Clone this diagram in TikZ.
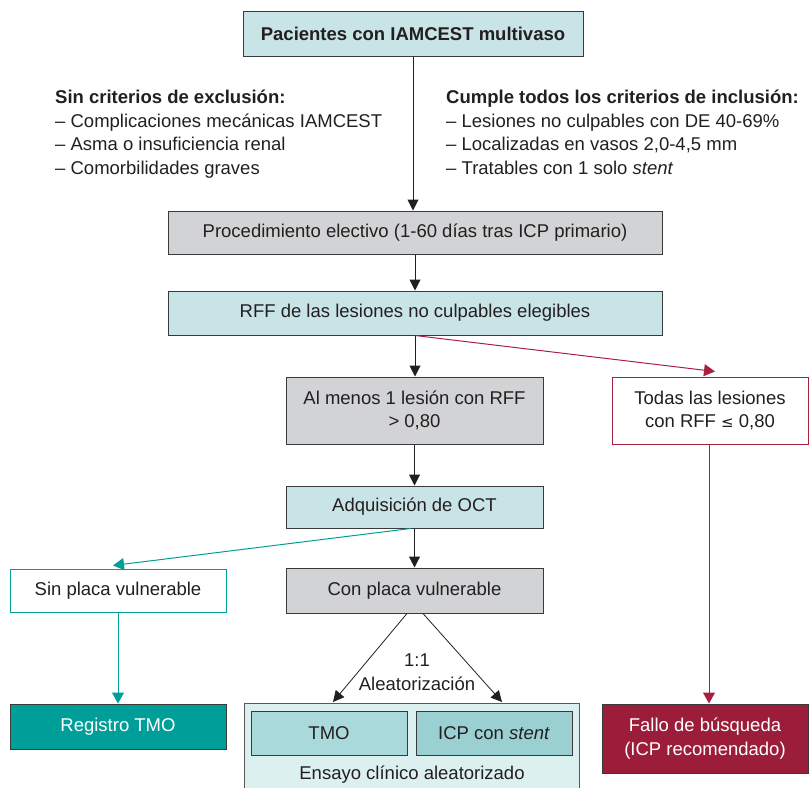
\documentclass[tikz,border=0pt]{standalone}
\usepackage{fontspec}
\setmainfont{Liberation Sans}
\usetikzlibrary{arrows.meta,calc}
\definecolor{lblue}{HTML}{C9E4E7}
\definecolor{lgray}{HTML}{D1D3D4}
\definecolor{bgray}{HTML}{3A3A3A}
\definecolor{teal}{HTML}{009E99}
\definecolor{dred}{HTML}{9B1D3A}
\definecolor{rline}{HTML}{A8203F}
\definecolor{trialbg}{HTML}{DDF0F0}
\definecolor{tmofill}{HTML}{AAD9DB}
\definecolor{icpfill}{HTML}{9BD0D2}
\definecolor{txt}{HTML}{231F20}
\tikzset{
  box/.style={draw=bgray, line width=1pt, inner sep=0pt, align=center, text=txt,
    font=\fontsize{18.5}{23.5}\selectfont},
  bluebox/.style={box, fill=lblue},
  graybox/.style={box, fill=lgray},
  arr/.style={line width=1pt, draw=txt, -{Triangle[length=11pt,width=11pt]}},
  tarr/.style={arr, draw=teal, -{Triangle[length=11pt,width=12pt,fill=teal]}},
  rarr/.style={arr, draw=rline, -{Triangle[length=11pt,width=12pt,fill=rline]}},
  plain/.style={inner sep=0pt, text=txt, font=\fontsize{18.5}{23.5}\selectfont, align=left},
}
\begin{document}
\begin{tikzpicture}[x=1pt,y=-1pt]
\useasboundingbox (0,0) rectangle (810,787);
\begin{scope}
\clip (0,0) rectangle (810,787);
% nodes
\node[bluebox, minimum width=340pt, minimum height=45pt] (top) at (413,33.5) {\textbf{Pacientes con IAMCEST multivaso}};
\node[plain, anchor=north west] (excl) at (55,90) {\textbf{Sin criterios de exclusión:}\\
– Complicaciones mecánicas IAMCEST\\
– Asma o insuficiencia renal\\
– Comorbilidades graves};
\node[plain, anchor=north west] (incl) at (446,90) {\textbf{Cumple todos los criterios de inclusión:}\\
– Lesiones no culpables con DE 40-69\%\\
– Localizadas en vasos 2,0-4,5 mm\\
– Tratables con 1 solo \textit{stent}};
\node[graybox, minimum width=494pt, minimum height=43pt] (proc) at (415,232.5) {Procedimiento electivo (1-60 días tras ICP primario)};
\node[bluebox, minimum width=494pt, minimum height=44pt] (rff) at (415,313) {RFF de las lesiones no culpables elegibles};
\node[graybox, minimum width=257pt, minimum height=67pt] (alm) at (414.5,410.5) {Al menos 1 lesión con RFF\\> 0,80};
\node[box, draw=rline, fill=white, minimum width=196pt, minimum height=67pt] (todas) at (710,410.5) {Todas las lesiones\\con RFF {\fontspec{DejaVu Sans}\fontsize{15}{18}\selectfont ≤} 0,80};
\node[bluebox, minimum width=257pt, minimum height=42pt] (oct) at (414.5,507) {Adquisición de OCT};
\node[box, draw=teal, fill=white, minimum width=216pt, minimum height=43pt] (sin) at (118,590.5) {Sin placa vulnerable};
\node[graybox, minimum width=257pt, minimum height=45pt] (con) at (414.5,590.5) {Con placa vulnerable};
\node[box, fill=teal, text=white, minimum width=216pt, minimum height=45pt] (reg) at (118,726.5) {Registro TMO};
\node[box, draw=gray!70!black, fill=trialbg, minimum width=335pt, minimum height=110pt, anchor=north] (trial) at (411.5,703) {};
\node[box, fill=tmofill, minimum width=156pt, minimum height=44pt] (tmo) at (329,733) {TMO};
\node[box, fill=icpfill, minimum width=156pt, minimum height=44pt] (icp) at (494,733) {ICP con \textit{stent}};
\node[plain] (ens) at (412,775) {Ensayo clínico aleatorizado};
\node[box, fill=dred, text=white, minimum width=206pt, minimum height=69pt] (fallo) at (705,738.5) {Fallo de búsqueda\\(ICP recomendado)};
\node[plain, align=center] (ale) at (417,672) {1:1\\Aleatorización};
% helper coordinates
\coordinate (redtop) at ($(todas.south)+(-1,0)$);
\coordinate (redbot) at (redtop |- fallo.north);
\coordinate (tealstart) at ($(oct.south)+(-4,0)$);
\coordinate (tealend) at ($(sin.north)+(-5,-3)$);
\coordinate (randL) at ($(con.south)+(-7.5,0)$);
\coordinate (randR) at ($(con.south)+(8.5,0)$);
\coordinate (randLend) at (333,702);
\coordinate (randRend) at (502,702);
\coordinate (redend) at ($(todas.north)+(5,-5)$);
% connectors
\draw[arr] (top.south) -- (top.south |- proc.north);
\draw[arr] (proc.south) -- (proc.south |- rff.north);
\draw[arr] (rff.south) -- (rff.south |- alm.north);
\draw[rarr] (rff.south) -- (redend);
\draw[arr] (alm.south) -- (oct.north);
\draw[arr] (oct.south) -- (con.north);
\draw[tarr] (tealstart) -- (tealend);
\draw[tarr] (sin.south) -- (reg.north);
\draw[arr, line width=0.8pt] (randL) -- (randLend);
\draw[arr, line width=0.8pt] (randR) -- (randRend);
\draw[rarr] (redtop) -- (redbot);
\end{scope}
\end{tikzpicture}
\end{document}
